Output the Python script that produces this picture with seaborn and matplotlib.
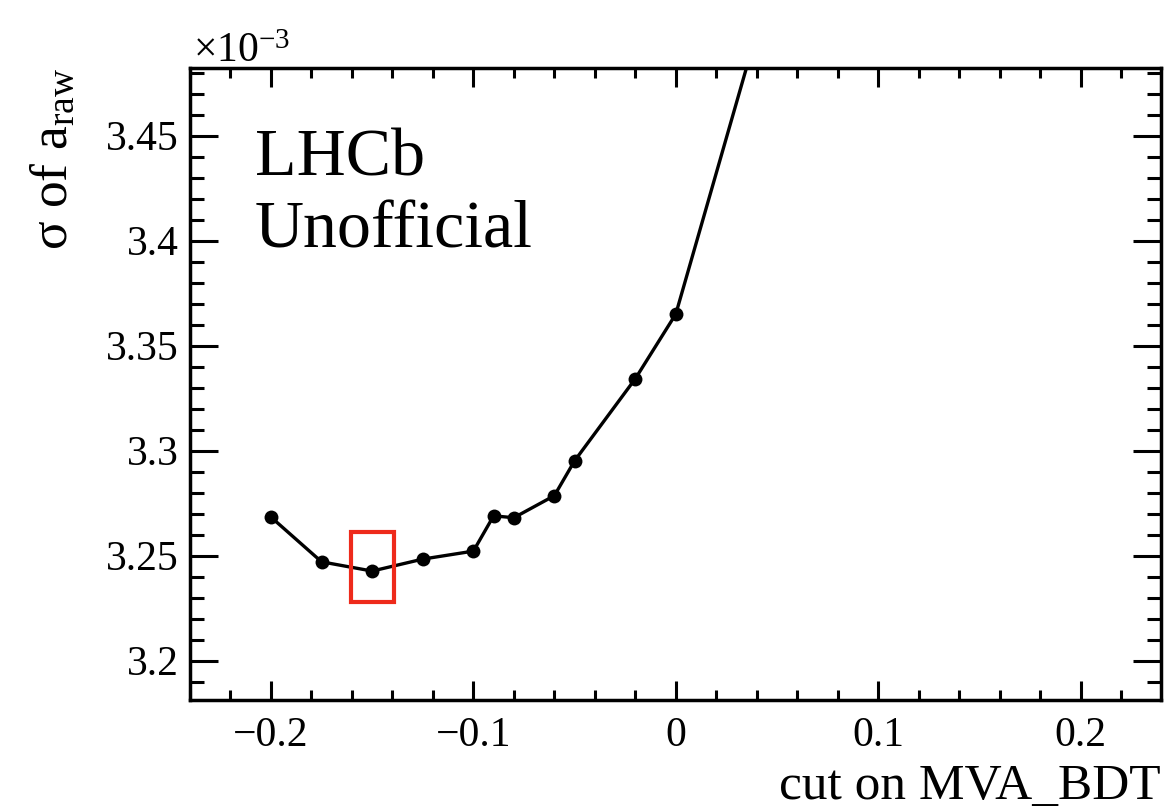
import numpy as np
import pandas as pd
import matplotlib
matplotlib.use("Agg")
import matplotlib.pyplot as plt
import matplotlib.ticker as mticker
from matplotlib.patches import Rectangle
import seaborn as sns

# ---- data ----
cut_values = [-0.20, -0.175, -0.15, -0.125, -0.10, -0.09, -0.08, -0.06, -0.05, -0.02, 0.0, 0.05]
sigma_araw = [3.2684e-3, 3.2471e-3, 3.2427e-3, 3.2484e-3, 3.2522e-3, 3.2690e-3,
              3.2681e-3, 3.2786e-3, 3.2952e-3, 3.3343e-3, 3.3651e-3, 3.533e-3]
x_ticks = [-0.2, -0.1, 0.0, 0.1, 0.2]
y_ticks = [3.20e-3, 3.25e-3, 3.30e-3, 3.35e-3, 3.40e-3, 3.45e-3]
x_label = "cut on MVA_BDT"
y_label = r"σ of a$_{\mathregular{raw}}$"
labels = ["LHCb", "Unofficial"]

df = pd.DataFrame({"cut": cut_values, "sigma": sigma_araw})

sns.set_theme(style="ticks")
plt.rcParams["font.family"] = ["Liberation Serif", "DejaVu Serif"]
plt.rcParams["mathtext.fontset"] = "custom"
plt.rcParams["mathtext.rm"] = "Liberation Serif"
plt.rcParams["mathtext.it"] = "Liberation Serif:italic"
plt.rcParams["axes.unicode_minus"] = True
plt.rcParams["text.color"] = "black"
plt.rcParams["axes.labelcolor"] = "black"
plt.rcParams["xtick.color"] = "black"
plt.rcParams["ytick.color"] = "black"

fig = plt.figure(figsize=(11.74, 8.10), dpi=100)
ax = fig.add_axes([190/1174, 1 - 700/810, 971/1174, (700 - 67.7)/810])

sns.lineplot(data=df, x="cut", y="sigma", ax=ax, color="black", linewidth=2.4,
             marker="o", markersize=10, markeredgewidth=0, sort=False,
             estimator=None, clip_on=True)

# red box around the minimum
best = int(np.argmin(sigma_araw))
box_hw, box_hh, box_dy = 0.0106, 0.0167e-3, 0.0019e-3
ax.add_patch(Rectangle((cut_values[best] - box_hw, sigma_araw[best] + box_dy - box_hh),
                       2 * box_hw, 2 * box_hh, fill=False, edgecolor="#EE2A1B",
                       linewidth=3.0, zorder=5))

ax.set_xlim(-0.24, 0.2397)
ax.set_ylim(3.1813e-3, 3.4824e-3)

ax.set_xticks(x_ticks)
ax.set_yticks(y_ticks)
ax.xaxis.set_minor_locator(mticker.MultipleLocator(0.02))
ax.yaxis.set_minor_locator(mticker.MultipleLocator(0.01e-3))

def fmt_x(v, pos):
    s = "%g" % round(v, 6)
    return s.replace("-", "\u2212")

def fmt_y(v, pos):
    return "%g" % round(v * 1e3, 6)

ax.xaxis.set_major_formatter(mticker.FuncFormatter(fmt_x))
ax.yaxis.set_major_formatter(mticker.FuncFormatter(fmt_y))

ax.tick_params(axis="both", which="both", direction="in", top=True, right=True,
               width=2.2, colors="black", labelsize=30)
ax.tick_params(axis="x", which="major", length=14, pad=12)
ax.tick_params(axis="x", which="minor", length=7)
ax.tick_params(axis="y", which="major", length=20, pad=8)
ax.tick_params(axis="y", which="minor", length=10)
for sp in ax.spines.values():
    sp.set_linewidth(2.5)
    sp.set_color("black")

ax.set_xlabel(x_label, fontsize=37, loc="right", color="black")
ax.xaxis.set_label_coords(1.0, -0.100)
ax.set_ylabel(y_label, fontsize=38.5, loc="top", color="black")
ax.yaxis.set_label_coords(-0.116, 1.0)

ax.text(0.003, 1.009, r"×10$^{\mathregular{-3}}$", transform=ax.transAxes,
        fontsize=30, ha="left", va="baseline", color="black")

ax.text(0.067, 0.830, labels[0], transform=ax.transAxes, fontsize=49,
        ha="left", va="baseline", color="black")
ax.text(0.067, 0.715, labels[1], transform=ax.transAxes, fontsize=49,
        ha="left", va="baseline", color="black")

fig.savefig("out.png", dpi=100)
